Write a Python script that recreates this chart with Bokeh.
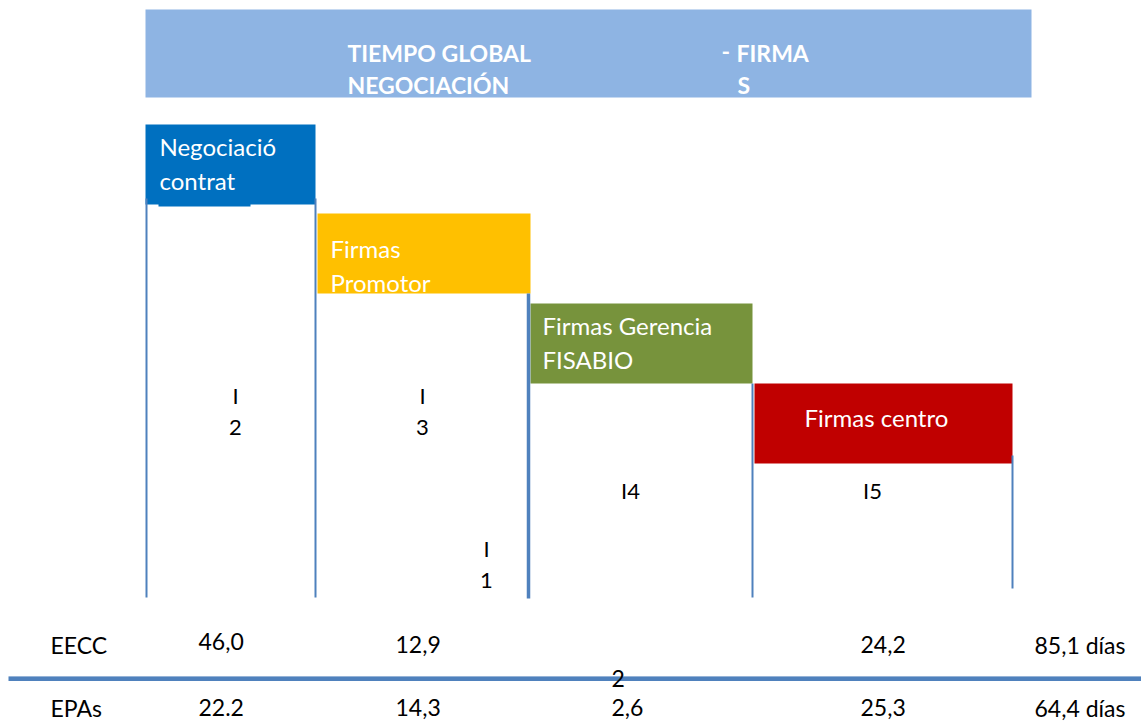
from bokeh.plotting import figure
from bokeh.models import Range1d
from bokeh.core.properties import value
from bokeh.embed import file_html
from bokeh.resources import INLINE

# ---------------- data ----------------
header_left = ["TIEMPO GLOBAL", "NEGOCIACIÓN"]
header_dash = "-"
header_right = ["FIRMA", "S"]
stage_lines = [["Negociació", "contrat"], ["Firmas", "Promotor"],
               ["Firmas Gerencia", "FISABIO"], ["Firmas centro"]]
stage_colors = ["#0070C0", "#FFC000", "#77933C", "#C00000"]
indicator_labels = [["I", "2"], ["I", "3"], ["I4"], ["I5"], ["I", "1"]]
row_names = ["EECC", "EPAs"]
eecc_values = ["46,0", "12,9", "", "24,2"]
eecc_total = "85,1 días"
epas_values = ["22.2", "14,3", "2,6", "25,3"]
epas_total = "64,4 días"
extra_label = "2"

# ---------------- layout (pixel space) ----------------
W, H = 1141, 722
p = figure(width=W, height=H, x_range=Range1d(0, W), y_range=Range1d(H, 0),
           output_backend="svg", toolbar_location=None, min_border=0)
p.axis.visible = False
p.grid.visible = False
p.outline_line_color = None
p.background_fill_color = "white"

FONT = value("Lato")
LINE = "#4F81BD"

# header band
p.quad(left=[145], right=[1031], top=[9], bottom=[97], fill_color="#8EB4E3", line_color=None)
p.text(x=[347, 347], y=[52, 84], text=header_left, text_font=FONT, text_font_style="bold",
       text_font_size="23px", text_color="white", text_baseline="middle", text_align="left")
p.text(x=[721], y=[51], text=[header_dash], text_font=FONT, text_font_style="bold",
       text_font_size="23px", text_color="white", text_baseline="middle", text_align="left")
p.text(x=[736, 737], y=[52, 84], text=header_right, text_font=FONT, text_font_style="bold",
       text_font_size="23px", text_color="white", text_baseline="middle", text_align="left")

# stage boxes
box_l = [145, 317, 530, 754]
box_r = [315, 530, 752, 1012]
box_t = [124, 213, 303, 383]
box_b = [204, 293, 383, 463]
p.quad(left=box_l, right=box_r, top=box_t, bottom=box_b,
       fill_color=stage_colors, line_color=None)
p.quad(left=[158], right=[250], top=[203], bottom=[206], fill_color="#0070C0", line_color=None)

text_x = [159, 330, 542, 804]
first_y = [146, 248, 325, 417]
for i, lines in enumerate(stage_lines):
    p.text(x=[text_x[i]] * len(lines), y=[first_y[i] + 34 * k for k in range(len(lines))],
           text=lines, text_font=FONT, text_font_size="24px", text_color="white",
           text_baseline="middle", text_align="left")

# vertical separators
vx = [146, 315, 528, 752, 1012]
vtop = [198, 198, 293, 383, 455]
vbot = [597, 597, 598, 597, 588]
vw = [2, 2, 3.5, 2, 2]
p.segment(x0=vx, y0=vtop, x1=vx, y1=vbot, line_color=LINE, line_width=vw)

# indicator labels
ind_x = [235, 422, 630, 872, 486]
ind_y = [395, 395, 490, 490, 548]
for i, lines in enumerate(indicator_labels):
    p.text(x=[ind_x[i]] * len(lines), y=[ind_y[i] + 32 * k for k in range(len(lines))],
           text=lines, text_font=FONT, text_font_size="22px", text_color="black",
           text_baseline="middle", text_align="center")

# bottom table
p.segment(x0=[8], y0=[678.5], x1=[1141], y1=[678.5], line_color=LINE, line_width=4)
p.segment(x0=[8], y0=[676], x1=[1141], y1=[676], line_color="#95B3D7", line_width=1)
col_x = [198, 395, 611, 860]
row_y = [644, 707]
FS = "23px"
p.text(x=[50, 50], y=row_y, text=row_names, text_font=FONT, text_font_size=FS,
       text_color="black", text_baseline="middle", text_align="left")
p.text(x=col_x, y=[641, 644, 644, 644], text=eecc_values, text_font=FONT, text_font_size=FS,
       text_color="black", text_baseline="middle", text_align="left")
p.text(x=col_x, y=[row_y[1]] * 4, text=epas_values, text_font=FONT, text_font_size=FS,
       text_color="black", text_baseline="middle", text_align="left")
p.text(x=[1034, 1034], y=row_y, text=[eecc_total, epas_total], text_font=FONT,
       text_font_size=FS, text_color="black", text_baseline="middle", text_align="left")
p.text(x=[611], y=[678], text=[extra_label], text_font=FONT, text_font_size=FS,
       text_color="black", text_baseline="middle", text_align="left")

open("out.html", "w").write(file_html(p, INLINE))
